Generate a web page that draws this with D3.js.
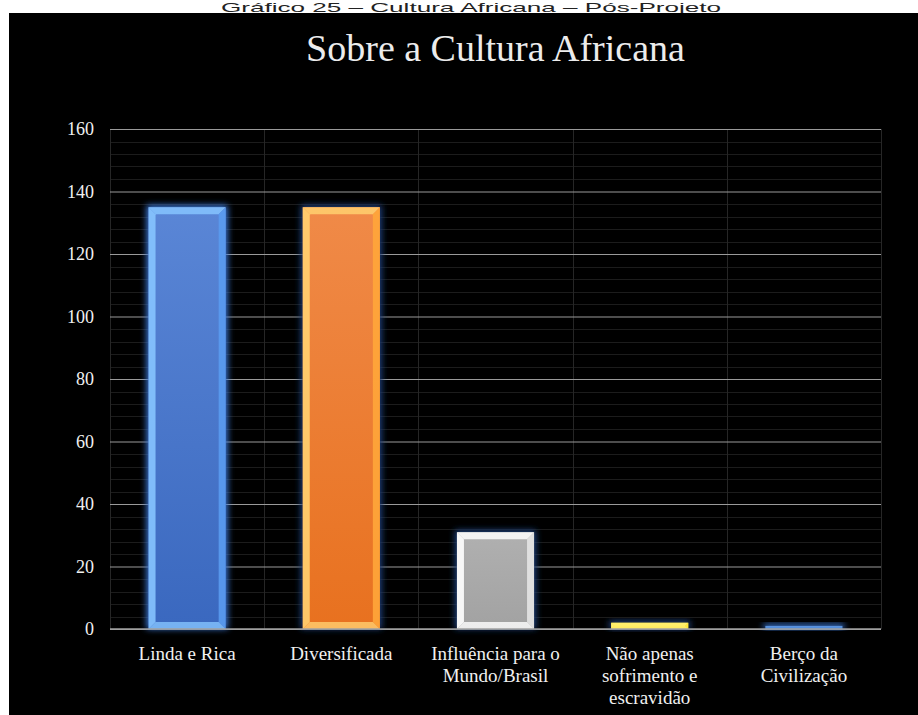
<!DOCTYPE html>
<html>
<head>
<meta charset="utf-8">
<script src="https://cdn.jsdelivr.net/npm/d3@7"></script>
<style>
  html, body { margin: 0; padding: 0; background: #fff; }
  svg { display: block; }
</style>
</head>
<body>
<svg id="chart" width="918" height="715"></svg>
<script>
// Categories and counts
const categories = [
  ["Linda e Rica"],
  ["Diversificada"],
  ["Influência para o", "Mundo/Brasil"],
  ["Não apenas", "sofrimento e", "escravidão"],
  ["Berço da", "Civilização"]
];
const values = [135, 135, 31, 2, 1];
const yTicks = [0, 20, 40, 60, 80, 100, 120, 140, 160];

// Bar palettes: [face top, face bottom, bevel light, bevel dark]
const palettes = [
  ["#5a86d6", "#3a68bf", "#86c4ff", "#5a9bf0"],
  ["#f08a48", "#e8711f", "#ffd070", "#ffa63a"],
  ["#b0b0b0", "#a2a2a2", "#ffffff", "#e4e4e4"],
  ["#ffe420", "#f2d400", "#fff27a", "#ffe840"],
  ["#5d95e0", "#4a86d6", "#8fc2ff", "#6aa8f0"]
];

const svg = d3.select("#chart");
const W = 918, H = 715;
const margin = { left: 110, right: 37, top: 129, bottom: 86 };

// page caption and black chart panel
svg.append("text")
  .attr("x", 471).attr("y", 12)
  .attr("text-anchor", "middle")
  .attr("font-family", "Liberation Sans, Arial, sans-serif")
  .attr("font-size", 13)
  .attr("textLength", 500)
  .attr("lengthAdjust", "spacingAndGlyphs")
  .attr("fill", "#222")
  .text("Gráfico 25 – Cultura Africana – Pós-Projeto");

svg.append("rect")
  .attr("x", 9).attr("y", 13)
  .attr("width", W - 9).attr("height", H - 13)
  .attr("fill", "#000");

const x = d3.scaleBand()
  .domain(d3.range(categories.length))
  .range([margin.left, W - margin.right])
  .paddingInner(0).paddingOuter(0);

const y = d3.scaleLinear()
  .domain([0, 160])
  .range([H - margin.bottom, margin.top]);

// title
svg.append("text")
  .attr("x", (x.range()[0] + x.range()[1]) / 2)
  .attr("y", 61)
  .attr("text-anchor", "middle")
  .attr("font-family", "Liberation Serif, Times New Roman, serif")
  .attr("font-size", 38)
  .attr("fill", "#ececec")
  .text("Sobre a Cultura Africana");

const defs = svg.append("defs");
const glow = defs.append("filter").attr("id", "glow")
  .attr("x", "-30%").attr("y", "-30%").attr("width", "160%").attr("height", "160%");
glow.append("feGaussianBlur").attr("stdDeviation", 3);

palettes.forEach((p, i) => {
  const g = defs.append("linearGradient").attr("id", "face" + i)
    .attr("x1", 0).attr("y1", 0).attr("x2", 0).attr("y2", 1);
  g.append("stop").attr("offset", "0%").attr("stop-color", p[0]);
  g.append("stop").attr("offset", "100%").attr("stop-color", p[1]);
});

// minor grid (every 4 units)
const minor = d3.range(4, 160, 4).filter(v => v % 20 !== 0);
svg.append("g").selectAll("line").data(minor).join("line")
  .attr("x1", x.range()[0]).attr("x2", x.range()[1])
  .attr("y1", d => Math.round(y(d)) + 0.5).attr("y2", d => Math.round(y(d)) + 0.5)
  .attr("stroke", "#1c1c1c").attr("stroke-width", 1);

// vertical grid at category boundaries
const bounds = d3.range(categories.length + 1).map(i => x.range()[0] + i * x.step());
svg.append("g").selectAll("line").data(bounds).join("line")
  .attr("x1", d => Math.round(d) + 0.5).attr("x2", d => Math.round(d) + 0.5)
  .attr("y1", y(160)).attr("y2", y(0))
  .attr("stroke", "#262626").attr("stroke-width", 1);

// y axis with major grid lines
const yAxis = d3.axisLeft(y).tickValues(yTicks).tickSize(-(x.range()[1] - x.range()[0])).tickPadding(16);
const ga = svg.append("g").attr("transform", `translate(${x.range()[0]},0)`).call(yAxis);
ga.select(".domain").remove();
ga.selectAll(".tick line").attr("stroke", "#9a9a9a").attr("stroke-width", 1.2);
ga.selectAll(".tick text")
  .attr("font-family", "Liberation Serif, Times New Roman, serif")
  .attr("font-size", 18)
  .attr("fill", "#f0f0f0");

// bars with bevel
const bw = x.bandwidth() * 0.5;
const bars = svg.append("g").selectAll("g").data(values).join("g");
bars.each(function(v, i) {
  const g = d3.select(this);
  const p = palettes[i];
  const x0 = x(i) + (x.bandwidth() - bw) / 2, x1 = x0 + bw;
  const y0 = y(v), y1 = y(0);
  const h = y1 - y0;
  const b = Math.min(7, h / 2);
  g.append("rect")
    .attr("x", x0 - 2).attr("y", y0 - 2).attr("width", bw + 4).attr("height", h + 2)
    .attr("fill", i === 0 || i === 4 ? "#3a78d8" : "#1d3f7a")
    .attr("filter", "url(#glow)");
  g.append("rect")
    .attr("x", x0).attr("y", y0).attr("width", bw).attr("height", h)
    .attr("fill", `url(#face${i})`);
  if (h > 4) {
    const poly = pts => pts.map(q => q.join(",")).join(" ");
    g.append("polygon").attr("points", poly([[x0, y0], [x1, y0], [x1 - b, y0 + b], [x0 + b, y0 + b]])).attr("fill", p[2]).attr("opacity", 0.85);
    g.append("polygon").attr("points", poly([[x0, y0], [x0 + b, y0 + b], [x0 + b, y1 - b], [x0, y1]])).attr("fill", p[2]).attr("opacity", 0.9);
    g.append("polygon").attr("points", poly([[x1, y0], [x1, y1], [x1 - b, y1 - b], [x1 - b, y0 + b]])).attr("fill", p[3]).attr("opacity", 0.9);
    g.append("polygon").attr("points", poly([[x0, y1], [x0 + b, y1 - b], [x1 - b, y1 - b], [x1, y1]])).attr("fill", p[2]).attr("opacity", 0.8);
  }
});

// x axis line
svg.append("line")
  .attr("x1", x.range()[0]).attr("x2", x.range()[1])
  .attr("y1", y(0)).attr("y2", y(0))
  .attr("stroke", "#a0a0a0").attr("stroke-width", 1.5);

// category labels
const lab = svg.append("g").selectAll("text").data(categories).join("text")
  .attr("x", (d, i) => x(i) + x.bandwidth() / 2)
  .attr("y", 660)
  .attr("text-anchor", "middle")
  .attr("font-family", "Liberation Serif, Times New Roman, serif")
  .attr("font-size", 19)
  .attr("fill", "#f0f0f0");
lab.each(function(lines) {
  d3.select(this).selectAll("tspan").data(lines).join("tspan")
    .attr("x", d3.select(this).attr("x"))
    .attr("dy", (d, j) => j === 0 ? 0 : 22)
    .text(d => d);
});
</script>
</body>
</html>
